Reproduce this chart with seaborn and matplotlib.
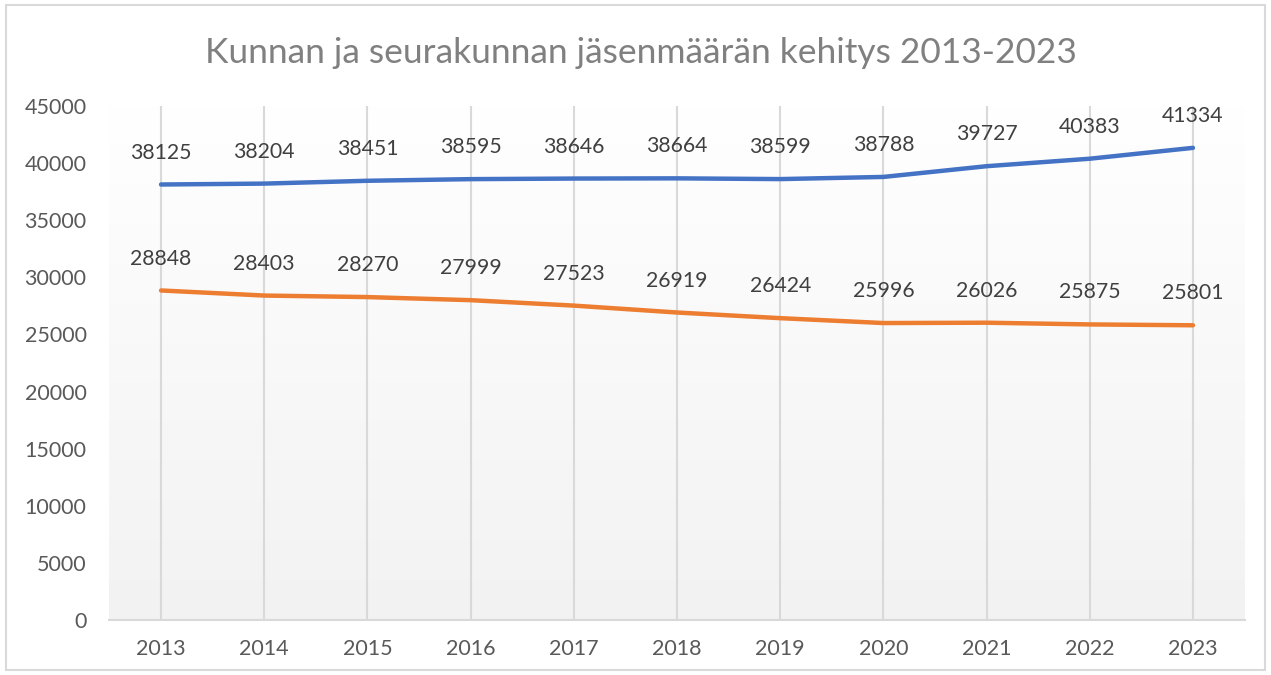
import numpy as np
import pandas as pd
import matplotlib
matplotlib.use("Agg")
import matplotlib.pyplot as plt
import seaborn as sns

years = ["2013", "2014", "2015", "2016", "2017", "2018", "2019", "2020", "2021", "2022", "2023"]
kunta = [38125, 38204, 38451, 38595, 38646, 38664, 38599, 38788, 39727, 40383, 41334]
seurakunta = [28848, 28403, 28270, 27999, 27523, 26919, 26424, 25996, 26026, 25875, 25801]

sns.set_theme(style="white")
plt.rcParams['font.family'] = ['Lato', 'DejaVu Sans']

df = pd.DataFrame({"vuosi": years * 2,
                   "jäsenet": kunta + seurakunta,
                   "sarja": ["Kunta"] * len(years) + ["Seurakunta"] * len(years)})

fig = plt.figure(figsize=(12.71, 6.75), dpi=100)
fig.patches.append(plt.Rectangle((0.005, 0.008), 0.99, 0.984, transform=fig.transFigure,
                                 fill=False, edgecolor="#D9D9D9", linewidth=1.5))
ax = fig.add_axes([0.0861, 0.0815, 0.8931, 0.7615])

# gradient background
grad = np.linspace(1.0, 0.0, 256).reshape(-1, 1)
top = np.array([1.0, 1.0, 1.0])
bot = np.array([0xF2, 0xF2, 0xF2]) / 255
img = grad[..., None] * top + (1 - grad[..., None]) * bot
ax.imshow(img, extent=(0, 1, 0, 1), transform=ax.transAxes, aspect="auto", zorder=0)

sns.lineplot(data=df, x="vuosi", y="jäsenet", hue="sarja", palette=["#4472C4", "#ED7D31"],
             linewidth=3.2, legend=False, ax=ax, zorder=3, sort=False)

ax.set_xlim(-0.5, len(years) - 0.5)
ax.set_ylim(0, 45000)
ax.set_yticks(range(0, 45001, 5000))
ax.set_xlabel("")
ax.set_ylabel("")
for s in ["top", "right", "left"]:
    ax.spines[s].set_visible(False)
ax.spines["bottom"].set_color("#D9D9D9")
ax.spines["bottom"].set_linewidth(1.5)
for i in range(len(years)):
    ax.axvline(i, color="#D9D9D9", linewidth=1.5, zorder=1)
ax.tick_params(axis="both", colors="#595959", labelsize=15.5, length=0)
ax.tick_params(axis="y", pad=16.5)
ax.tick_params(axis="x", pad=14)

for vals in (kunta, seurakunta):
    for i, v in enumerate(vals):
        ax.annotate(str(v), (i, v), xytext=(0, 23), textcoords="offset points",
                    ha="center", va="center", fontsize=15.3, color="#404040", zorder=4)

fig.text(0.504, 0.922, "Kunnan ja seurakunnan jäsenmäärän kehitys 2013-2023",
         ha="center", va="center", fontsize=25.5, color="#808080")

fig.savefig("out.png", dpi=100)
